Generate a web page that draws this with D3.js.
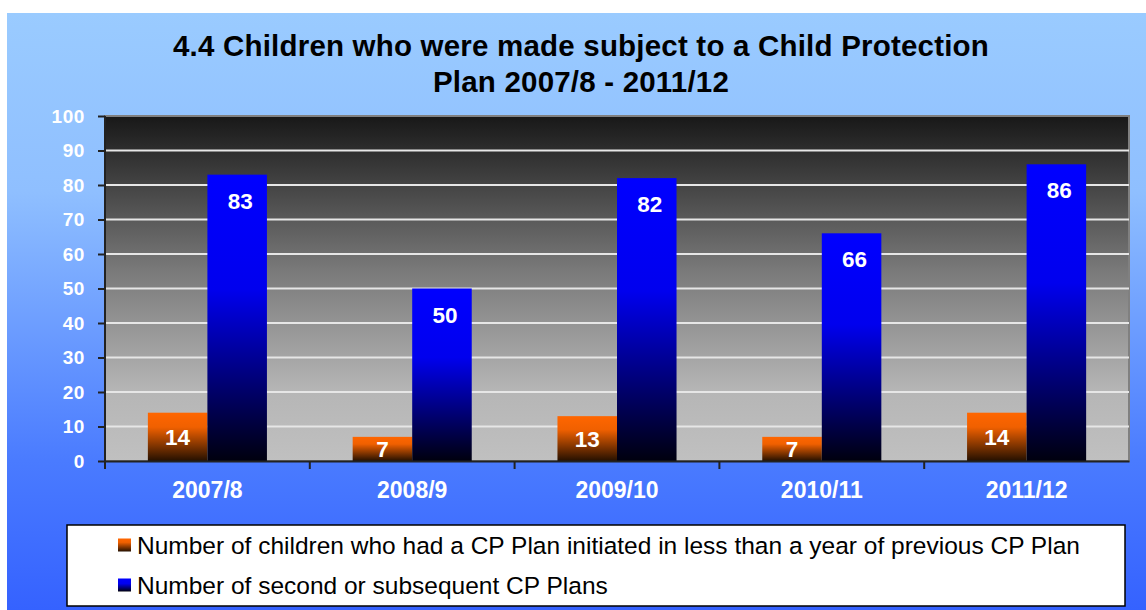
<!DOCTYPE html>
<html>
<head>
<meta charset="utf-8">
<script src="https://cdn.jsdelivr.net/npm/d3@7"></script>
<style>
  body { margin: 0; background: #fff; }
  svg { display: block; font-family: "Liberation Sans", Arial, sans-serif; }
</style>
</head>
<body>
<div id="chart"></div>
<script>
// chart data
var years = ["2007/8", "2008/9", "2009/10", "2010/11", "2011/12"];
var withinYear = [14, 7, 13, 7, 14];
var subsequent = [83, 50, 82, 66, 86];
var seriesNames = [
  "Number of children who had a CP Plan initiated in less than a year of previous CP Plan",
  "Number of second or subsequent CP Plans"
];
var yTicks = [0, 10, 20, 30, 40, 50, 60, 70, 80, 90, 100];
var titleLines = ["4.4 Children who were made subject to a Child Protection", "Plan 2007/8 - 2011/12"];

var W = 1146, H = 610;
var plot = {left: 105, top: 116, right: 1129, bottom: 461};

var svg = d3.select("#chart").append("svg")
  .attr("width", W).attr("height", H);

var defs = svg.append("defs");
function grad(id, stops) {
  var g = defs.append("linearGradient").attr("id", id)
    .attr("x1", 0).attr("y1", 0).attr("x2", 0).attr("y2", 1);
  stops.forEach(function(s) {
    g.append("stop").attr("offset", s[0]).attr("stop-color", s[1]);
  });
}
grad("bg", [[0, "#9acbff"], [0.3, "#8fbfff"], [0.75, "#4a7bff"], [1, "#3562ff"]]);
grad("plotbg", [[0, "#181818"], [0.45, "#7a7a7a"], [0.8, "#b6b6b6"], [1, "#c0c0c0"]]);
grad("orange", [[0, "#ff6600"], [0.3, "#f06000"], [1, "#241000"]]);
grad("blue", [[0, "#0000ff"], [0.4, "#0000ee"], [1, "#00000e"]]);

// outer background
svg.append("rect").attr("x", 7).attr("y", 13).attr("width", W - 7).attr("height", H - 13)
  .attr("fill", "url(#bg)");

// title
svg.append("g").selectAll("text").data(titleLines).enter().append("text")
  .attr("x", 581).attr("y", function(d, i) { return 56 + i * 36; })
  .attr("text-anchor", "middle")
  .attr("font-size", 29.5).attr("font-weight", "bold").attr("fill", "#000")
  .attr("letter-spacing", 0.2)
  .text(function(d) { return d; });

// scales
var x0 = d3.scaleBand().domain(years).range([plot.left, plot.right]).paddingInner(0).paddingOuter(0);
var x1 = d3.scaleBand().domain([0, 1]).range([0, x0.bandwidth()]).paddingInner(0).paddingOuter(0.72);
var y = d3.scaleLinear().domain([0, 100]).range([plot.bottom, plot.top]);

// plot area
svg.append("rect")
  .attr("x", plot.left).attr("y", plot.top)
  .attr("width", plot.right - plot.left).attr("height", plot.bottom - plot.top)
  .attr("fill", "url(#plotbg)")
  .attr("stroke", "#808080").attr("stroke-width", 2);

// gridlines
svg.append("g").selectAll("line").data(yTicks.filter(function(d) { return d > 0 && d < 100; }))
  .enter().append("line")
  .attr("x1", plot.left).attr("x2", plot.right)
  .attr("y1", function(d) { return y(d); }).attr("y2", function(d) { return y(d); })
  .attr("stroke", "#e6e6e6").attr("stroke-width", 2);

// bars
var groups = svg.append("g").selectAll("g").data(years).enter().append("g")
  .attr("transform", function(d) { return "translate(" + x0(d) + ",0)"; });

var series = [
  {values: withinYear, fill: "url(#orange)"},
  {values: subsequent, fill: "url(#blue)"}
];

series.forEach(function(s, si) {
  groups.append("rect")
    .attr("x", x1(si))
    .attr("width", x1.bandwidth())
    .attr("y", function(d, i) { return y(s.values[i]); })
    .attr("height", function(d, i) { return y(0) - y(s.values[i]); })
    .attr("fill", s.fill);

  groups.append("text")
    .attr("x", x1(si) + x1.bandwidth() / 2 + (si === 1 ? 3 : 0))
    .attr("y", function(d, i) {
      var top = y(s.values[i]);
      return si === 0 ? (top + y(0)) / 2 + 8 : top + 34;
    })
    .attr("text-anchor", "middle")
    .attr("font-size", 22.5).attr("font-weight", "bold").attr("fill", "#fff")
    .text(function(d, i) { return s.values[i]; });
});

// y axis
var yAxis = svg.append("g")
  .attr("transform", "translate(" + plot.left + ",0)")
  .call(d3.axisLeft(y).tickValues(yTicks).tickSize(7).tickPadding(13));
yAxis.select(".domain").attr("stroke", "#222").attr("stroke-width", 2)
  .attr("d", "M0," + plot.top + "V" + (plot.bottom + 8));
yAxis.selectAll(".tick line").attr("stroke", "#222").attr("stroke-width", 2);
yAxis.selectAll(".tick text")
  .attr("fill", "#fff").attr("font-size", 19).attr("font-weight", "bold")
  .attr("letter-spacing", 0.6)
  .attr("font-family", "Liberation Sans, Arial, sans-serif");

// x axis
var xAxis = svg.append("g")
  .attr("transform", "translate(0," + plot.bottom + ")")
  .call(d3.axisBottom(x0).tickSize(0).tickPadding(21));
xAxis.select(".domain").attr("stroke", "#222").attr("stroke-width", 2);
xAxis.selectAll(".tick text")
  .attr("fill", "#fff").attr("font-size", 23).attr("font-weight", "bold")
  .attr("font-family", "Liberation Sans, Arial, sans-serif");
// category separators
xAxis.selectAll("line.sep").data(years.slice(1)).enter().append("line")
  .attr("class", "sep")
  .attr("x1", function(d) { return x0(d); }).attr("x2", function(d) { return x0(d); })
  .attr("y1", 0).attr("y2", 8)
  .attr("stroke", "#222").attr("stroke-width", 2);

// legend
var legend = svg.append("g");
legend.append("rect")
  .attr("x", 67).attr("y", 525).attr("width", 1058).attr("height", 81)
  .attr("fill", "#fff").attr("stroke", "#000").attr("stroke-width", 1.5);
var legendFills = ["url(#orange)", "url(#blue)"];
var items = legend.selectAll("g.item").data(seriesNames).enter().append("g")
  .attr("class", "item")
  .attr("transform", function(d, i) { return "translate(118," + (545 + i * 40) + ")"; });
items.append("rect")
  .attr("x", 0).attr("y", -6.5).attr("width", 13).attr("height", 13)
  .attr("fill", function(d, i) { return legendFills[i]; });
items.append("text")
  .attr("x", 19).attr("y", 8.5)
  .attr("font-size", 24.5).attr("fill", "#000")
  .text(function(d) { return d; });
</script>
</body>
</html>
